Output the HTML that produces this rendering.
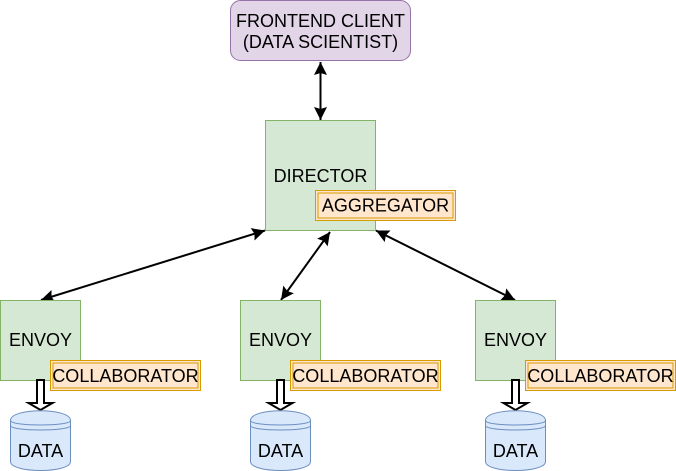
<!DOCTYPE html>
<html>
<head>
<meta charset="utf-8">
<style>
html,body{margin:0;padding:0;background:#fff}
svg{display:block}
text{font-family:"Liberation Sans",Arial,sans-serif;font-size:18px;fill:#000;text-anchor:middle}
.g{fill:#d5e8d4;stroke:#82b366}
.o{fill:#ffe6cc;stroke:#d79b00}
.i{fill:none;stroke:#d79b00}
.l{stroke:#000;stroke-width:2;fill:none}
.b{fill:#dae8fc;stroke:#6c8ebf}
.bl{fill:none;stroke:#6c8ebf}
</style>
</head>
<body>
<svg width="676" height="471" viewBox="0 0 676 471" xmlns="http://www.w3.org/2000/svg">
<defs>
<marker id="a" viewBox="0 0 14 14" refX="13" refY="7" markerWidth="14" markerHeight="14" markerUnits="userSpaceOnUse" orient="auto-start-reverse">
<path d="M0 0.5L13 7L0 13.5L2 7Z" fill="#000"/>
</marker>
<g id="cyl">
<path class="b" d="M0 10C0 -3 60 -3 60 10V51C60 63 0 63 0 51Z"/>
<path class="bl" d="M0 10C0 16 60 16 60 10M0 15C0 21 60 21 60 15"/>
</g>
<path id="ha" d="M-3.5 0V23H-12L0 30L12 23H3.5V0Z" fill="#fff" stroke="#000" stroke-width="2"/>
</defs>

<rect x="230.5" y="0.5" width="180" height="60" rx="10" fill="#e1d5e7" stroke="#9673a6"/>
<text x="320.5" y="27">FRONTEND CLIENT</text>
<text x="320.5" y="48">(DATA SCIENTIST)</text>

<rect class="g" x="265.5" y="120.5" width="110" height="110"/>
<text x="320.5" y="182">DIRECTOR</text>
<rect class="o" x="315.5" y="190.5" width="140" height="30"/>
<rect class="i" x="318" y="193" width="135" height="25"/>
<text x="385.5" y="211.5">AGGREGATOR</text>

<line class="l" x1="320.5" y1="62" x2="320.5" y2="120" marker-start="url(#a)" marker-end="url(#a)"/>
<line class="l" x1="265" y1="230.5" x2="41" y2="300" marker-start="url(#a)" marker-end="url(#a)"/>
<line class="l" x1="330" y1="232" x2="281" y2="300" marker-start="url(#a)" marker-end="url(#a)"/>
<line class="l" x1="376" y1="230.5" x2="515" y2="300" marker-start="url(#a)" marker-end="url(#a)"/>

<rect class="g" x="0.5" y="300.5" width="80" height="80"/>
<text x="40.5" y="346">ENVOY</text>
<rect class="g" x="240.5" y="300.5" width="80" height="80"/>
<text x="280.5" y="346">ENVOY</text>
<rect class="g" x="475.5" y="300.5" width="80" height="80"/>
<text x="515.5" y="346">ENVOY</text>

<use href="#ha" x="40.5" y="380"/>
<use href="#ha" x="280.5" y="380"/>
<use href="#ha" x="515.5" y="380"/>

<rect class="o" x="50.5" y="360.5" width="150" height="30"/>
<rect class="i" x="53" y="363" width="145" height="25"/>
<text x="125.5" y="382">COLLABORATOR</text>
<rect class="o" x="290.5" y="360.5" width="150" height="30"/>
<rect class="i" x="293" y="363" width="145" height="25"/>
<text x="365.5" y="382">COLLABORATOR</text>
<rect class="o" x="525.5" y="360.5" width="150" height="30"/>
<rect class="i" x="528" y="363" width="145" height="25"/>
<text x="600.5" y="382">COLLABORATOR</text>

<use href="#cyl" x="10.5" y="410.5"/>
<text x="40.5" y="457">DATA</text>
<use href="#cyl" x="250.5" y="410.5"/>
<text x="280.5" y="457">DATA</text>
<use href="#cyl" x="485.5" y="410.5"/>
<text x="515.5" y="457">DATA</text>
</svg>
</body>
</html>
